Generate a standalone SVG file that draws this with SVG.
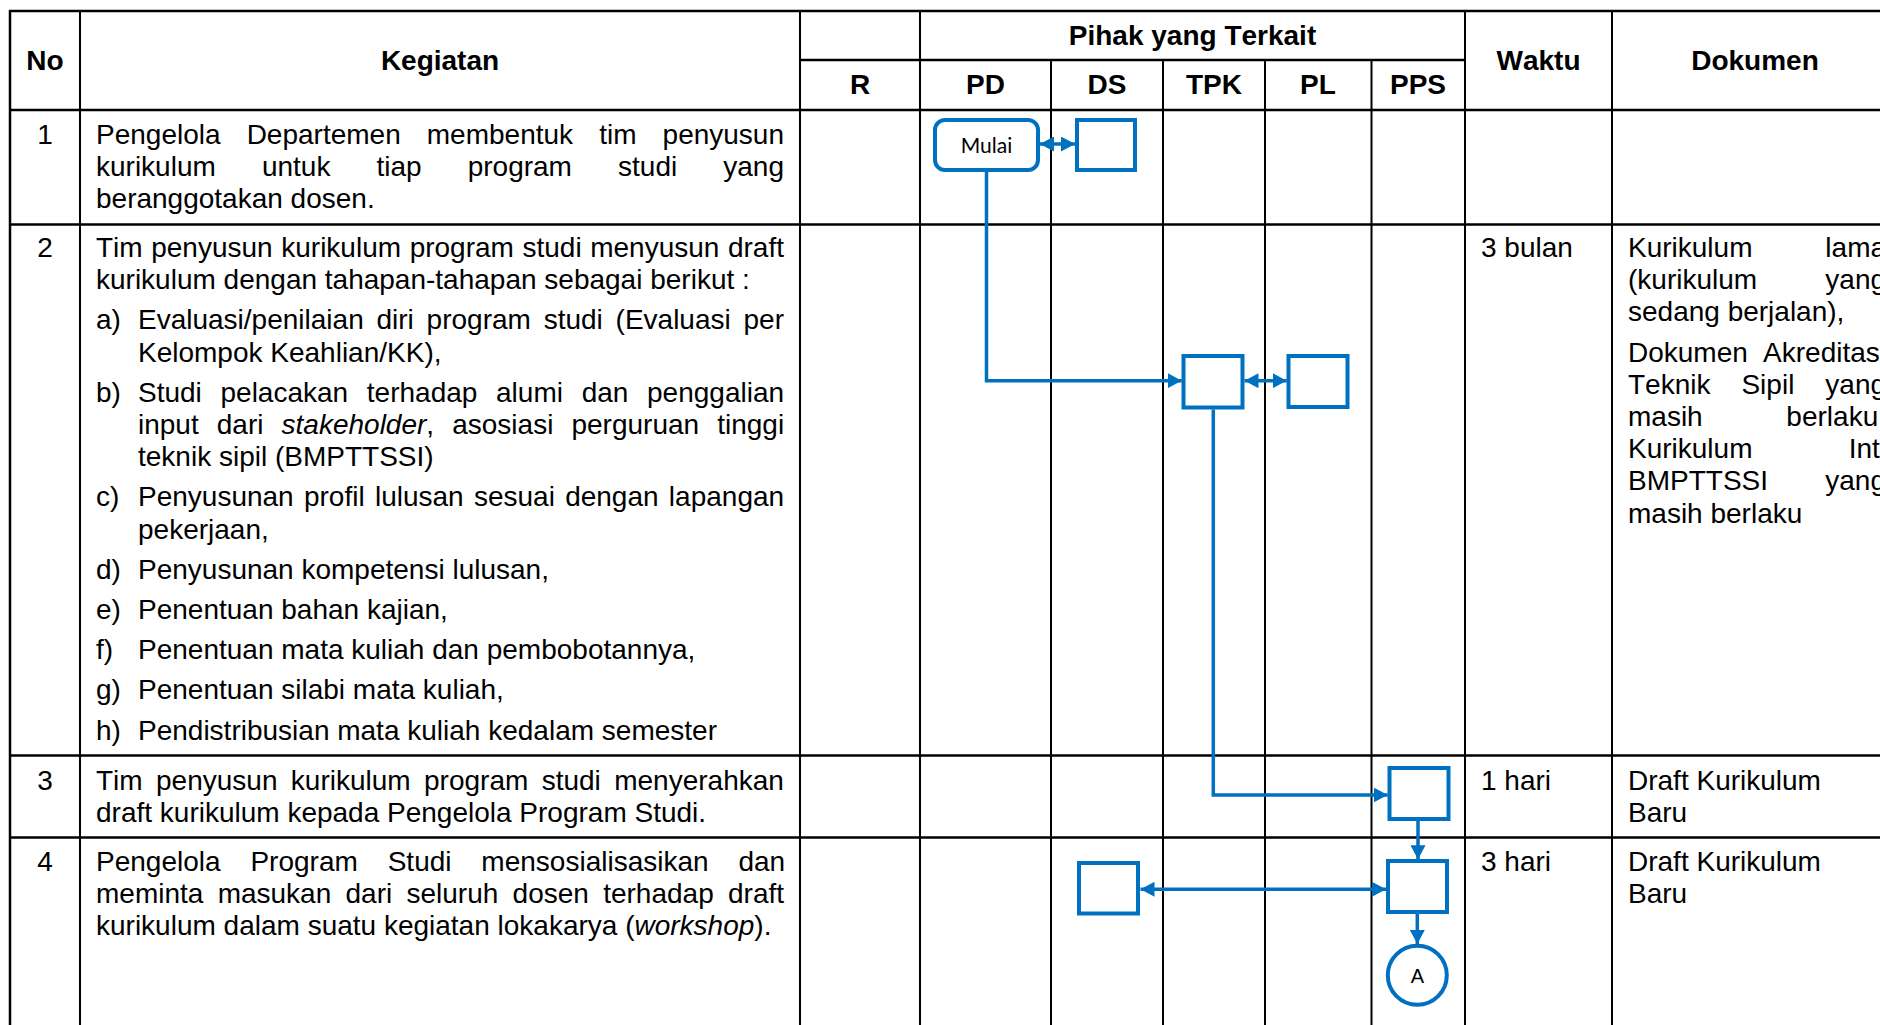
<svg xmlns="http://www.w3.org/2000/svg" width="1880" height="1025" viewBox="0 0 1880 1025">
<style>
  .t { font-family: "Liberation Sans", Arial, sans-serif; font-size: 28px; fill: #000; font-kerning: none; }
  .b { font-weight: bold; }
  .c { text-anchor: middle; }
  .i { font-style: italic; }
  .h { stroke: #000; stroke-width: 2.5; }
  .v { stroke: #000; stroke-width: 2; }
  .box { fill: #fff; stroke: #0070C0; stroke-width: 4; }
  .conn { fill: none; stroke: #0070C0; stroke-width: 3.5; }
  .lbl { font-family: Lato, "Liberation Sans", sans-serif; font-size: 21px; fill: #000; text-anchor: middle; }
  .lblA { font-family: "Liberation Sans", Arial, sans-serif; font-size: 20px; fill: #000; text-anchor: middle; }
</style>
<defs>
  <marker id="ah" viewBox="0 0 14 15" refX="14" refY="7.5" markerWidth="14" markerHeight="15" markerUnits="userSpaceOnUse" orient="auto-start-reverse">
    <path d="M0,0 L14,7.5 L0,15 z" fill="#0070C0"/>
  </marker>
</defs>
<rect x="0" y="0" width="1880" height="1025" fill="#fff"/>

<g id="grid">
  <line class="h" x1="9" y1="11" x2="1900" y2="11"/>
  <line class="h" x1="800" y1="60" x2="1465" y2="60"/>
  <line class="h" x1="9" y1="110" x2="1900" y2="110"/>
  <line class="h" x1="9" y1="224.5" x2="1900" y2="224.5"/>
  <line class="h" x1="9" y1="755.5" x2="1900" y2="755.5"/>
  <line class="h" x1="9" y1="837.5" x2="1900" y2="837.5"/>
  <line class="v" x1="10" y1="10" x2="10" y2="1025" style="stroke-width:2.5"/>
  <line class="v" x1="80" y1="10" x2="80" y2="1025"/>
  <line class="v" x1="800" y1="10" x2="800" y2="1025"/>
  <line class="v" x1="920" y1="10" x2="920" y2="1025"/>
  <line class="v" x1="1051" y1="60" x2="1051" y2="1025"/>
  <line class="v" x1="1163" y1="60" x2="1163" y2="1025"/>
  <line class="v" x1="1265" y1="60" x2="1265" y2="1025"/>
  <line class="v" x1="1371.5" y1="60" x2="1371.5" y2="1025"/>
  <line class="v" x1="1465" y1="10" x2="1465" y2="1025"/>
  <line class="v" x1="1612" y1="10" x2="1612" y2="1025"/>
</g>

<g id="header">
  <text class="t b c" x="45" y="70">No</text>
  <text class="t b c" x="440" y="70">Kegiatan</text>
  <text class="t b c" x="1192.5" y="45">Pihak yang Terkait</text>
  <text class="t b c" x="860" y="94">R</text>
  <text class="t b c" x="985.5" y="94">PD</text>
  <text class="t b c" x="1107" y="94">DS</text>
  <text class="t b c" x="1214" y="94">TPK</text>
  <text class="t b c" x="1318" y="94">PL</text>
  <text class="t b c" x="1418" y="94">PPS</text>
  <text class="t b c" x="1538.5" y="70">Waktu</text>
  <text class="t b c" x="1755" y="70">Dokumen</text>
</g>

<g id="row1">
  <text class="t c" x="45" y="143.5">1</text>
  <text class="t" x="96" y="143.5" word-spacing="18.3">Pengelola Departemen membentuk tim penyusun</text>
  <text class="t" x="96" y="175.7" word-spacing="38.3">kurikulum untuk tiap program studi yang</text>
  <text class="t" x="96" y="207.9">beranggotakan dosen.</text>
</g>

<g id="row2">
  <text class="t c" x="45" y="257">2</text>
  <text class="t" x="96" y="257" word-spacing="0.8">Tim penyusun kurikulum program studi menyusun draft</text>
  <text class="t" x="96" y="289.2">kurikulum dengan tahapan-tahapan sebagai berikut :</text>
  <text class="t" x="96" y="329.4">a)</text>
  <text class="t" x="138" y="329.4" word-spacing="5">Evaluasi/penilaian diri program studi (Evaluasi per</text>
  <text class="t" x="138" y="361.6">Kelompok Keahlian/KK),</text>
  <text class="t" x="96" y="401.8">b)</text>
  <text class="t" x="138" y="401.8" word-spacing="10.9">Studi pelacakan terhadap alumi dan penggalian</text>
  <text class="t" x="138" y="434" word-spacing="10.3">input dari <tspan class="i">stakeholder</tspan>, asosiasi perguruan tinggi</text>
  <text class="t" x="138" y="466.2">teknik sipil (BMPTTSSI)</text>
  <text class="t" x="96" y="506.4">c)</text>
  <text class="t" x="138" y="506.4" word-spacing="2.5">Penyusunan profil lulusan sesuai dengan lapangan</text>
  <text class="t" x="138" y="538.6">pekerjaan,</text>
  <text class="t" x="96" y="578.8">d)</text>
  <text class="t" x="138" y="578.8">Penyusunan kompetensi lulusan,</text>
  <text class="t" x="96" y="619">e)</text>
  <text class="t" x="138" y="619">Penentuan bahan kajian,</text>
  <text class="t" x="96" y="659.2">f)</text>
  <text class="t" x="138" y="659.2">Penentuan mata kuliah dan pembobotannya,</text>
  <text class="t" x="96" y="699.4">g)</text>
  <text class="t" x="138" y="699.4">Penentuan silabi mata kuliah,</text>
  <text class="t" x="96" y="739.6">h)</text>
  <text class="t" x="138" y="739.6">Pendistribusian mata kuliah kedalam semester</text>
  <text class="t" x="1481" y="257">3 bulan</text>
  <text class="t" x="1628" y="257" word-spacing="65.1">Kurikulum lama</text>
  <text class="t" x="1628" y="289.2" word-spacing="60.4">(kurikulum yang</text>
  <text class="t" x="1628" y="321.4">sedang berjalan),</text>
  <text class="t" x="1628" y="361.6" word-spacing="7.5">Dokumen Akreditas</text>
  <text class="t" x="1628" y="393.8" word-spacing="23.2">Teknik Sipil yang</text>
  <text class="t" x="1628" y="426" word-spacing="75.9">masih berlaku</text>
  <text class="t" x="1628" y="458.2" word-spacing="88.4">Kurikulum Int</text>
  <text class="t" x="1628" y="490.4" word-spacing="49.5">BMPTTSSI yang</text>
  <text class="t" x="1628" y="522.6">masih berlaku</text>
</g>

<g id="row3">
  <text class="t c" x="45" y="789.5">3</text>
  <text class="t" x="96" y="789.5" word-spacing="5.6">Tim penyusun kurikulum program studi menyerahkan</text>
  <text class="t" x="96" y="821.7">draft kurikulum kepada Pengelola Program Studi.</text>
  <text class="t" x="1481" y="789.5">1 hari</text>
  <text class="t" x="1628" y="789.5">Draft Kurikulum</text>
  <text class="t" x="1628" y="821.7">Baru</text>
</g>

<g id="row4">
  <text class="t c" x="45" y="871">4</text>
  <text class="t" x="96" y="871" word-spacing="22.1">Pengelola Program Studi mensosialisasikan dan</text>
  <text class="t" x="96" y="903.2" word-spacing="6.5">meminta masukan dari seluruh dosen terhadap draft</text>
  <text class="t" x="96" y="935.4">kurikulum dalam suatu kegiatan lokakarya (<tspan class="i">workshop</tspan>).</text>
  <text class="t" x="1481" y="871">3 hari</text>
  <text class="t" x="1628" y="871">Draft Kurikulum</text>
  <text class="t" x="1628" y="903.2">Baru</text>
</g>

<g id="connectors">
  <line class="conn" x1="1040" y1="144" x2="1075" y2="144" marker-start="url(#ah)" marker-end="url(#ah)"/>
  <polyline class="conn" points="986.5,171.5 986.5,380.7 1181.7,380.7" marker-end="url(#ah)"/>
  <line class="conn" x1="1244.5" y1="380.7" x2="1286.7" y2="380.7" marker-start="url(#ah)" marker-end="url(#ah)"/>
  <polyline class="conn" points="1213.3,409.5 1213.3,795 1387.7,795" marker-end="url(#ah)"/>
  <line class="conn" x1="1418" y1="820.7" x2="1418" y2="859.3" marker-end="url(#ah)"/>
  <line class="conn" x1="1386" y1="889.3" x2="1140.5" y2="889.3" marker-start="url(#ah)" marker-end="url(#ah)"/>
  <line class="conn" x1="1417.3" y1="914" x2="1417.3" y2="944" marker-end="url(#ah)"/>
</g>

<g id="node-mulai">
  <rect class="box" x="935" y="120" width="103" height="50" rx="10" ry="10"/>
  <text class="lbl" x="986.5" y="153">Mulai</text>
</g>
<g id="node-ds1"><rect class="box" x="1077" y="120" width="58" height="50"/></g>
<g id="node-tpk"><rect class="box" x="1183.5" y="356" width="59" height="51.5"/></g>
<g id="node-pl"><rect class="box" x="1288.5" y="356" width="59" height="51"/></g>
<g id="node-pps1"><rect class="box" x="1389.5" y="768" width="59" height="51"/></g>
<g id="node-pps2"><rect class="box" x="1388" y="861" width="59" height="51"/></g>
<g id="node-ds2"><rect class="box" x="1079" y="863" width="59" height="50.5"/></g>
<g id="node-a">
  <circle class="box" cx="1417.3" cy="975.3" r="29.5"/>
  <text class="lblA" x="1417.3" y="982.5">A</text>
</g>
</svg>
